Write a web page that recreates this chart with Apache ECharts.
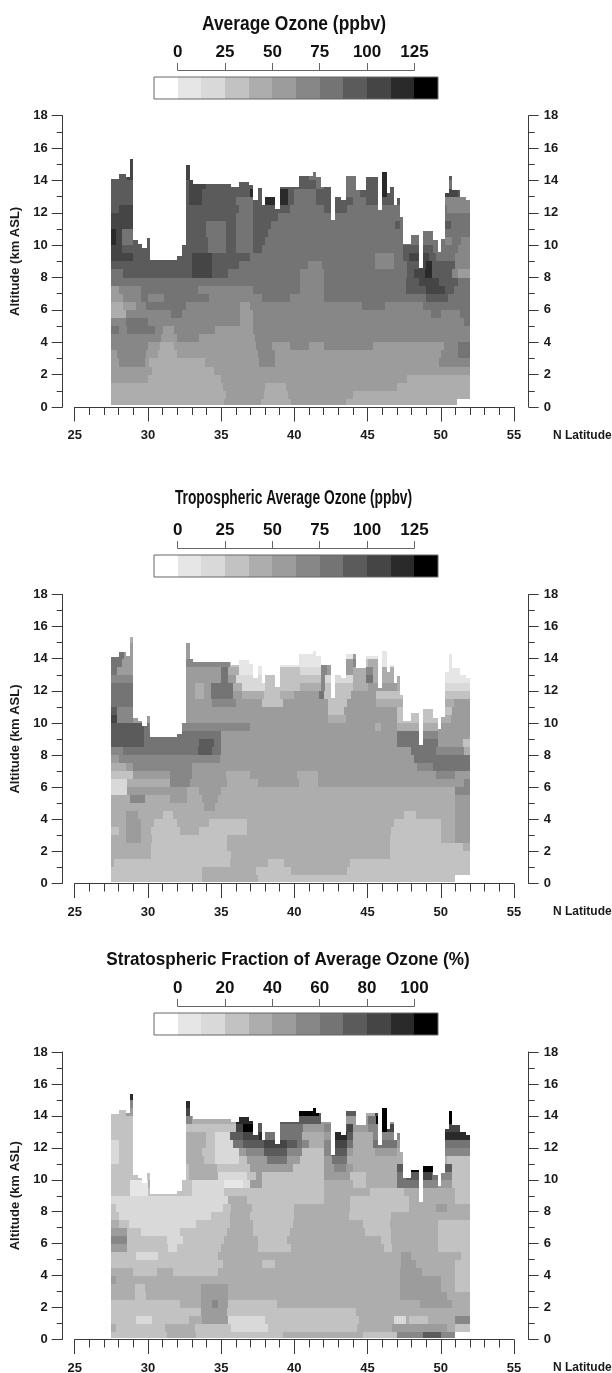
<!DOCTYPE html>
<html><head><meta charset="utf-8">
<script src="https://cdn.jsdelivr.net/npm/echarts@6/dist/echarts.min.js"></script>
<style>html,body{margin:0;padding:0;background:#fff}#c{width:612px;height:1373px}</style></head>
<body><div id="c"></div>
<script>
// Band index per 0.5 km altitude row (bottom row first). Each row is: band, latitude where that band ends, band, ...
// Band n covers the n-th box of the colour bar; 0 is the white box.
const averageOzone = [
[4,35.2,5,37.7,4,39.8,5,43.5,4,51.1,0,52],
[4,35.3,5,37.9,4,39.6,5,44,4,52],
[4,35.1,5,38,4,39.4,5,47,4,52],
[5,30,4,35,5,47.7,4,52],
[5,30.3,4,34.5,5,52],
[5,28,6,29.8,5,30.1,4,33.9,5,37.6,6,38.7,5,49.9,6,52],
[5,27.9,6,29.9,5,30.7,4,32,5,37.5,6,38.7,5,50,6,51.2,7,52],
[6,30,5,30.8,4,31.8,5,37.4,6,38.5,5,39.7,6,41,5,42,6,45.4,5,50.2,6,51.2,7,52],
[6,30.9,5,32,6,33.5,5,37.3,6,52],
[7,28,6,28.6,7,30.5,6,31,5,31.8,6,34.6,5,37.2,6,52],
[6,28.5,7,30,6,36.3,5,37.2,6,51.6,7,52],
[4,28.5,6,31.6,7,32.3,6,36.3,5,37.2,6,49.3,7,50,6,51.3,7,52],
[4,28.3,5,29.2,6,29.9,7,32.6,6,36.3,5,37,6,44.6,7,46.2,6,48.8,7,52],
[5,28.3,6,29.5,7,30,6,31.1,7,34.2,6,37.8,7,39.7,6,42,7,49,8,50.5,7,52],
[5,28,6,29.5,7,33.4,6,37.2,7,40.4,6,42,7,47.6,8,49,9,50.3,8,50.9,7,52],
[7,40.4,6,42,7,47.6,8,48.5,9,49.9,8,51.2,7,52],
[7,28.3,8,33,9,34.4,8,35.5,7,40.4,6,42,7,47.7,8,48.2,9,48.9,10,49.4,8,50.8,6,51.2,5,52],
[8,33,9,34.4,8,36.2,7,40.9,6,41.9,7,45.5,6,46.8,7,47.7,8,48.5,9,49,10,49.4,8,51,6,52],
[9,29,8,33,9,34.4,8,37,7,45.5,6,46.8,7,47.4,8,47.8,9,49.2,8,49.7,7,51,6,52],
[9,28.2,8,34.1,7,35.3,8,36,7,37.2,8,37.8,7,47.4,8,49.5,7,51.2,6,52],
[10,27.8,9,28.2,7,29,8,34.1,7,35.3,8,36,7,37.2,8,38,7,50.3,6,50.8,7,51.4,6,52],
[10,27.8,9,28.2,7,29,8,34,7,35.3,8,36,7,37.2,8,38.2,7,52],
[9,29,8,34,7,35.3,8,36,7,37.2,8,38.4,7,46.9,8,47.2,7,50.3,8,50.7,7,52],
[9,29,8,36,7,37.2,8,38.9,7,52],
[8,28,9,29,8,36.2,7,37.2,8,39.7,7,42,8,43.6,7,50.4,6,52],
[8,32.8,9,33.7,8,36,7,37.2,8,37.9,10,38.7,8,39,10,39.6,8,40,7,41.5,8,44,7,44.9,8,47.5,6,52],
[8,32.8,9,33.7,8,37,10,37.5,8,39,10,39.6,8,40,7,41.5,8,43.5,7,44.5,8,46,10,46.3,8,50.3,9,51.2,8,52],
[8,32.8,9,34,8,41.5,7,42,8,43.5,7,44.5,8,46,10,46.3,8,50.5,7,52],
[8,28.6,9,33,8,41,7,44.5,8,46,10,46.3,8,52],
[9,52],
[9,52]
];
const troposphericOzone = [
[3,33.7,4,37.5,3,51,0,52],
[3,33.7,4,37.4,3,39.8,4,43.6,3,52],
[4,27.7,3,35.6,4,38.2,3,39.3,4,43.8,3,52],
[4,30.2,3,35.7,4,46.5,3,52],
[4,30.2,3,35.4,4,46.5,3,51.5,4,52],
[4,28.5,5,29.5,4,30.3,3,35.4,4,46.5,3,50,4,51,5,52],
[3,28,4,28.5,5,29.5,4,30.2,3,32.2,4,33.5,3,36.8,4,46.6,3,50,4,51,5,52],
[4,28.5,5,29.5,4,30.4,3,32,4,34.2,3,36.8,4,46.8,3,50,4,51,5,52],
[4,28.5,5,29.3,4,31,3,31.7,4,47.5,3,48.3,4,51,5,52],
[4,33.8,5,34.6,4,51,5,52],
[4,28.8,6,29.8,4,31.5,5,32.7,4,33.7,5,34.8,4,51,5,52],
[2,28.6,5,32.7,4,33.5,5,35,4,51,6,52],
[2,28.6,4,31.5,6,32.9,5,35.4,4,37.5,5,40.3,4,41.6,5,51.6,6,52],
[3,29,5,31.5,6,33,5,35.3,4,37,5,40.2,4,41.6,5,49.7,6,51,5,52],
[4,28.5,5,29,6,33,5,48.4,6,49.5,7,52],
[5,28,6,34.9,5,48.2,7,52],
[6,28.3,7,33.4,8,34.4,7,35,5,48,7,49.7,6,51.6,4,52],
[8,29.7,7,33.5,8,34.5,7,35,5,47,7,49.8,5,51.5,3,52],
[8,29.7,7,35,5,47,7,48.6,6,49.8,5,52],
[8,29.7,7,30.1,6,37,5,45.5,4,45.9,5,47,4,49.8,5,52],
[9,27.9,6,29,5,42.3,4,43.5,5,47,3,50,4,50.7,5,52],
[8,27.9,6,29,5,39.9,5,42.3,3,43.4,5,47,3,50.8,5,52],
[7,29,5,34.4,6,36,5,37.8,3,39.2,5,42.3,3,43.6,5,45.6,4,50.9,5,52],
[7,29,5,33.2,4,33.8,5,34.3,7,35.8,5,36.4,4,37.9,3,39,4,40,5,41.7,7,42,3,43.9,5,45.6,3,47.5,4,50.3,3,52],
[7,29,5,33.2,4,33.8,5,34.3,7,35.8,4,36.4,2,38,3,40.4,4,41.8,6,42.1,3,44,4,45,5,47,4,47.5,2,52],
[6,32.6,5,35,7,35.5,5,36,2,38,3,41.8,6,42.1,2,44,4,44.9,7,45.4,4,47.5,1,52],
[7,27.9,5,35,7,35.5,4,36.2,1,38,3,40.4,2,41.8,6,42.2,5,44,4,44.9,6,45.4,4,50,1,52],
[7,28.2,5,32.5,6,35.6,3,36.2,1,41.8,6,42.2,5,44,6,44.3,3,45,4,46,1,52],
[7,28.4,5,33,1,44,5,44.6,1,52],
[5,33,1,50,1,52],
[4,52]
];
const stratosphericFraction = [
[3,31.3,4,33.3,3,39.2,4,44.7,3,47,6,48.8,8,50,6,51,0,52],
[4,27.8,3,31.2,4,33.2,3,35.7,2,38.2,3,44.3,4,46.7,5,50.4,4,51,3,52],
[3,29.2,2,30.3,3,32.8,4,33.7,5,35.5,2,38,3,44.4,4,46.8,2,47.6,4,47.8,3,49.1,4,51,6,52],
[3,33.6,5,35.4,3,44.2,4,52],
[3,32.2,4,33.6,5,34.4,6,34.8,5,35.5,3,38.8,4,48.6,5,50.8,4,52],
[4,29.1,3,29.9,4,33.6,5,35.5,4,47.2,5,50.4,4,52],
[4,29.1,3,29.8,4,33.6,5,35.5,4,47.2,5,50,4,51,3,52],
[5,27.8,4,47.2,5,50,4,51,3,52],
[4,29,3,30.6,4,31.7,3,34.8,4,47.2,5,48.7,4,51,3,52],
[3,35.1,4,37.8,3,38.7,4,47.3,5,48.3,4,51,3,52],
[3,29.2,2,30.7,3,34.8,4,47.3,5,48,4,51.4,3,52],
[5,28.6,3,31.4,2,32,3,35,4,37.5,3,39.8,4,46.1,3,46.7,4,49.8,3,52],
[6,28.6,3,31.3,2,32.4,3,35.2,4,37.5,3,39.5,4,45.9,3,46.6,4,49.8,3,52],
[5,28.6,3,29.5,2,32.2,3,35.4,4,37.2,3,39.7,4,44.8,3,46.6,4,49.8,3,52],
[4,28,3,28.7,2,33.3,3,35.6,4,37.2,3,39.9,4,44.7,3,46.5,4,49.8,3,52],
[3,28,2,34.3,3,35.6,4,37,3,40,4,43.7,3,46.6,4,52],
[3,27.8,2,35.1,3,35.7,4,37.1,3,40,4,43.8,3,47.8,4,49.7,5,50.4,4,52],
[2,35.5,4,36.8,3,42,4,43.8,3,47.8,4,51,3,52],
[3,28.8,1,30,3,33,2,35.2,3,42,4,45.2,3,47.5,4,51,3,52],
[3,28.8,1,30,4,30.3,3,33,2,35.2,1,36.5,2,37,5,37.8,3,42,4,44,3,44.9,4,47,7,48.7,6,49.8,5,50.8,3,52],
[3,32.8,4,34.8,2,36.8,3,37.4,5,37.8,3,42,5,43.8,3,44.9,4,47,7,47.6,8,48.5,9,49.4,7,49.9,6,50.8,3,52],
[3,32.8,4,34.7,3,37,5,39.9,3,42,5,42.7,6,43.5,5,44,4,47,8,47.7,11,49.5,5,50.3,8,50.8,3,52],
[2,28,3,29,4,33.8,3,34.6,2,36.2,3,36.8,5,38.1,7,39.5,5,40.4,3,42,5,42.6,7,43.6,4,50.4,3,52],
[2,28,3,29,4,33.7,3,34.6,2,36.2,5,36.7,6,37.9,8,39.5,6,40.5,3,42,6,42.5,8,43.6,5,44,4,45.5,5,47,4,47.5,6,52],
[2,28,3,29,4,34,3,34.6,2,35.8,7,36.5,8,37.9,9,39.5,8,40.2,7,40.5,6,41,4,42,6,42.5,9,43.6,7,44,4,45.4,7,47,5,47.5,7,52],
[3,32.6,4,34,3,34.6,2,35.6,8,36.5,9,37.6,10,38,7,40.5,4,42,5,42.5,10,43.6,8,44,4,45.4,6,47.5,10,52],
[3,36,9,36.5,11,37.4,8,37.8,7,40.6,5,42,6,42.5,8,43.6,9,44,5,45,6,46,11,46.3,9,47,7,50.3,9,52],
[3,32.5,6,33,4,36,10,37.5,8,41.8,5,45,7,45.6,11,46.3,5,50,11,52],
[3,28.5,5,32.5,9,33,11,41.7,8,44.5,4,45.5,9,46,11,52],
[6,32.5,10,52],
[10,52]
];
// Highest altitude sampled: altitude, latitude where it ends, altitude, ...
const sampledTop = [14.1,28,14.4,28.5,14.2,28.75,15.35,29,10.3,29.3,10.1,29.6,9.8,29.95,10.45,30.15,9.1,32,9.3,32.3,10,32.6,14.95,32.85,14,33.1,13.8,35.7,13.6,36.2,13.9,36.9,13.7,37.2,12.8,37.5,13.55,37.8,12.5,38,13,38.7,12.25,39,13.6,40.3,14.3,41.3,14.5,41.5,14.2,41.8,13.6,42.5,11.55,42.8,13,43.2,12.8,43.5,14.3,44.2,13.4,44.9,14.2,45.7,12.2,46,14.5,46.3,13.2,46.5,13.6,46.8,12.5,47,12.9,47.2,11.75,47.45,10.1,48,10.6,48.5,8.6,48.8,10.85,49.45,10.3,49.8,9.6,50,10.4,50.3,13.2,50.55,14.3,50.8,13.4,51.3,13,51.7,12.8,52];
const ozoneBarEdges = [-12.5,0,12.5,25,37.5,50,62.5,75,87.5,100,112.5,125,137.5];
const fractionBarEdges = [-10,0,10,20,30,40,50,60,70,80,90,100,110];
const bandColors = ['#ffffff','#e6e6e6','#d9d9d9','#c2c2c2','#adadad','#9c9c9c','#878787','#747474','#5b5b5b','#454545','#2a2a2a','#000000'];
const panelTitles = ['Average Ozone (ppbv)','Tropospheric Average Ozone (ppbv)','Stratospheric Fraction of Average Ozone (%)'];

const panels = [
 {runs:averageOzone, title:panelTitles[0], titleX:294, titleY:24, titleSize:20, titleScale:0.87, barEdges:ozoneBarEdges, barMax:125, barTick:25, barTop:77, top:115.7, bottom:407},
 {runs:troposphericOzone, title:panelTitles[1], titleX:293.5, titleY:498, titleSize:20, titleScale:0.69, barEdges:ozoneBarEdges, barMax:125, barTick:25, barTop:555, top:594.5, bottom:883.5},
 {runs:stratosphericFraction, title:panelTitles[2], titleX:288, titleY:960, titleSize:19, titleScale:0.9, barEdges:fractionBarEdges, barMax:100, barTick:20, barTop:1013, top:1052, bottom:1339.5}
];
const rowStep = 0.5, floorAlt = 0.1, firstLat = 27.5;
const FONT = '"Liberation Sans", Arial, sans-serif';
const AXC = '#3a3a3a';

function buildCells(runs){
  const out = [];
  runs.forEach((row, r) => {
    const a0 = r ? r*rowStep : floorAlt, a1 = (r+1)*rowStep;
    let lat = firstLat, ri = 0, ti = 0;
    while (ri < row.length && ti < sampledTop.length) {
      const re = row[ri+1], te = sampledTop[ti+1], end = Math.min(re, te);
      const top = Math.min(a1, sampledTop[ti]);
      if (end > lat && top > a0 && row[ri] > 0) out.push([lat, end, a0, top, row[ri]]);
      lat = Math.max(lat, end);
      if (re <= end) ri += 2;
      if (te <= end) ti += 2;
    }
  });
  return out;
}
function rectItem(api, style){
  const p0 = api.coord([api.value(0), api.value(2)]), p1 = api.coord([api.value(1), api.value(3)]);
  const x = Math.round(p0[0]), y = Math.round(p1[1]);
  return {type:'rect', shape:{x, y, width:Math.round(p1[0])-x, height:Math.round(p0[1])-y}, style};
}
const grid=[], xAxis=[], yAxis=[], series=[], graphic=[], title=[];
const lab = {fontFamily:FONT, fontWeight:'bold', fontSize:13, color:'#1a1a1a'};
panels.forEach((p,i)=>{
  const g = grid.length, x = xAxis.length, y = yAxis.length;
  grid.push({left:74.7, width:439.3, top:p.top, height:p.bottom-p.top, containLabel:false, outerBoundsMode:'none'});
  xAxis.push({type:'value', gridIndex:g, position:'bottom', min:25, max:55, interval:5, splitLine:{show:false},
    axisLine:{onZero:false, lineStyle:{color:AXC}}, axisTick:{length:14.5, lineStyle:{color:AXC}},
    minorTick:{show:true, splitNumber:5, length:8, lineStyle:{color:AXC}}, minorSplitLine:{show:false},
    axisLabel:Object.assign({margin:22}, lab)});
  const yBase = {type:'value', gridIndex:g, min:0, max:18, interval:2, splitLine:{show:false},
    axisLine:{show:true, onZero:false, lineStyle:{color:AXC}}, minorSplitLine:{show:false},
    minorTick:{show:true, splitNumber:2, length:6, lineStyle:{color:AXC}},
    axisLabel:Object.assign({margin:15, showMinLabel:true, showMaxLabel:true}, lab)};
  yAxis.push(Object.assign({}, yBase, {position:'left', offset:12, axisTick:{length:11, lineStyle:{color:AXC}},
    name:'Altitude (km ASL)', nameLocation:'middle', nameGap:39, nameRotate:90,
    nameTextStyle:{fontFamily:FONT, fontWeight:'bold', fontSize:13, color:'#1a1a1a'}}));
  yAxis.push(Object.assign({}, yBase, {position:'right', offset:14.7, axisTick:{length:10, lineStyle:{color:AXC}}}));
  series.push({type:'custom', xAxisIndex:x, yAxisIndex:y, animation:false, silent:true, progressive:0, clip:false,
    coordinateSystem:'cartesian2d', encode:{x:[0,1], y:[2,3]}, data:buildCells(p.runs),
    renderItem:(params,api)=>rectItem(api,{fill:bandColors[api.value(4)]})});
  // colour bar
  const g2 = grid.length, x2 = xAxis.length, y2 = yAxis.length;
  grid.push({left:177.7, width:236.7, top:p.barTop, height:22, outerBoundsMode:'none'});
  xAxis.push({type:'value', gridIndex:g2, position:'top', offset:7, min:0, max:p.barMax, interval:p.barTick, splitLine:{show:false},
    axisLine:{onZero:false, lineStyle:{color:'#666'}}, axisTick:{length:7, lineStyle:{color:'#666'}},
    axisLabel:{margin:9, fontFamily:FONT, fontWeight:'bold', fontSize:17, color:'#111'}});
  yAxis.push({type:'value', gridIndex:g2, min:0, max:1, show:false});
  const e = p.barEdges, barCells = [];
  for (let k=0;k<e.length-1;k++) barCells.push([e[k], e[k+1], 0, 1, k]);
  series.push({type:'custom', xAxisIndex:x2, yAxisIndex:y2, animation:false, silent:true, clip:false, progressive:0,
    coordinateSystem:'cartesian2d', encode:{x:[0,1], y:[2,3]}, data:barCells,
    renderItem:(params,api)=>rectItem(api,{fill:bandColors[api.value(4)]})});
  series.push({type:'custom', xAxisIndex:x2, yAxisIndex:y2, animation:false, silent:true, clip:false,
    coordinateSystem:'cartesian2d', encode:{x:[0,1], y:[2,3]}, data:[[e[0], e[e.length-1], 0, 1]],
    renderItem:(params,api)=>rectItem(api,{fill:'none', stroke:'#666', lineWidth:1})});
  graphic.push({type:'text', x:p.titleX, y:p.titleY, scaleX:p.titleScale, silent:true,
    style:{text:p.title, textAlign:'center', textVerticalAlign:'middle', fill:'#111', font:'bold '+p.titleSize+'px '+FONT}});
  title.push({text:'N Latitude', left:553, top:p.bottom+22.5, padding:0, textStyle:{fontFamily:FONT, fontWeight:'bold', fontSize:12, color:'#1a1a1a'}});
});
const chart = echarts.init(document.getElementById('c'), null, {renderer:'canvas'});
chart.setOption({animation:false, backgroundColor:'#fff', title, grid, xAxis, yAxis, series, graphic});
</script></body></html>
